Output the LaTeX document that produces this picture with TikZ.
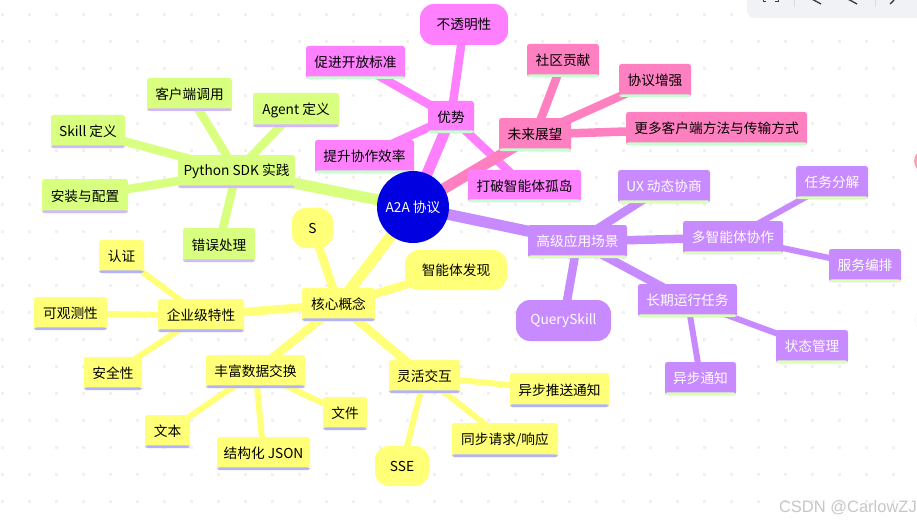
\documentclass[tikz,border=0pt]{standalone}
\usepackage{fontspec}
\setmainfont{Noto Sans CJK SC}
\newfontfamily\wmfont{Liberation Sans}
\pgfdeclarelayer{paper}
\pgfdeclarelayer{links}
\pgfsetlayers{paper,links,main}
\definecolor{cpink}{HTML}{FF80FF}
\definecolor{crose}{HTML}{FF80C0}
\definecolor{cpurple}{HTML}{C78AFF}
\definecolor{cyellow}{HTML}{FFFF78}
\definecolor{clime}{HTML}{D9FF80}
\definecolor{cblue}{HTML}{0000E0}
\definecolor{bgreen}{HTML}{C4FFD0}
\definecolor{blilac}{HTML}{D2B8FF}
\definecolor{bblue}{HTML}{B2B2FF}
\definecolor{blime}{HTML}{DCFFB8}
\definecolor{cdot}{HTML}{F0F0F0}
\definecolor{ctool}{HTML}{F0F2F6}
\definecolor{cblob}{HTML}{F5A3B7}
\tikzset{
  x=1pt,y=-1pt,
  mfont/.style={font=\fontsize{13.7}{15}\selectfont},
  mbox/.style 2 args={fill=#1,inner sep=0pt,rounded corners=2.5pt,text=black,mfont,
    path picture={\fill[#2] ([yshift=2.6pt]path picture bounding box.south west) rectangle (path picture bounding box.south east);}},
  mcloud/.style={fill=#1,inner sep=0pt,rounded corners=14pt,text=black,mfont},
  pinkb/.style={mbox={cpink}{bgreen}},
  roseb/.style={mbox={crose}{bgreen}},
  purpb/.style={mbox={cpurple}{blime},text=white},
  limeb/.style={mbox={clime}{blilac}},
  yelb/.style={mbox={cyellow}{bblue}},
  lka/.style={line width=11pt,draw=#1},
  lkb/.style={line width=8.5pt,draw=#1},
  lkc/.style={line width=6pt,draw=#1},
}
\newcommand{\boxat}[7]{\node[#1,minimum width={(#5-#3)*1pt},minimum height={(#6-#4)*1pt}] (#2) at ({(#3+#5)/2},{(#4+#6)/2}) {\raisebox{-1.1pt}{#7}};}
\begin{document}
\begin{tikzpicture}
\useasboundingbox (0,0) rectangle (917,524);
\begin{pgfonlayer}{paper}
\fill[white] (0,0) rectangle (917,524);
\foreach \i in {0,...,33} \foreach \j in {0,...,19}
  \fill[cdot] ({27*\i+0.5},{15+27*\j-1.5}) rectangle +(3,3);
\end{pgfonlayer}
% window controls
\begin{scope}
\clip (0,0) rectangle (917,524);
\fill[ctool,rounded corners=8pt] (747,-12) rectangle (940,18);
\draw[line width=1pt,black!75] (763,0) -- (763,2) -- (766,2) (778,0) -- (778,2) -- (775,2);
\draw[line width=1pt,ctool!80!gray] (794,0) -- (794,7) (875,0) -- (875,7);
\draw[line width=1.4pt,black!75] (810,-2) -- (821,4) (846,-2) -- (857,4) (890,4) -- (894,0);
\fill[white,draw=black!5] (926,161) circle (14);
\fill[cblob] (926,161) circle (12);
\fill[white,draw=black!6] (930,320) circle (15);
\end{scope}
% nodes
\boxat{pinkb}{pros}{428}{101}{474}{133}{优势}
\boxat{mcloud=cpink}{opaque}{420}{4}{508}{45}{不透明性}
\boxat{pinkb}{open}{306}{46}{405}{79}{促进开放标准}
\boxat{pinkb}{effic}{315}{140}{414}{173}{提升协作效率}
\boxat{pinkb}{island}{468}{170}{581}{202}{打破智能体孤岛}
\boxat{roseb}{future}{499}{118}{571}{151}{未来展望}
\boxat{roseb}{comm}{527}{44}{599}{77}{社区贡献}
\boxat{roseb}{enh}{619}{64}{691}{97}{协议增强}
\boxat{roseb}{more}{626}{112}{807}{145}{更多客户端方法与传输方式}
\boxat{purpb}{adv}{528}{225}{627}{258}{高级应用场景}
\boxat{purpb}{ux}{618}{170}{710}{203}{UX 动态协商}
\boxat{purpb}{multi}{683}{221}{783}{254}{多智能体协作}
\boxat{purpb}{split}{796}{166}{868}{199}{任务分解}
\boxat{purpb}{orch}{829}{249}{901}{282}{服务编排}
\boxat{purpb}{longrun}{638}{284}{737}{317}{长期运行任务}
\boxat{purpb}{state}{776}{330}{848}{363}{状态管理}
\boxat{purpb}{notify}{665}{362}{736}{395}{异步通知}
\boxat{mcloud=cpurple,text=white}{qskill}{516}{300}{611}{341}{QuerySkill}
\boxat{limeb}{sdk}{178}{155}{295}{188}{Python SDK 实践}
\boxat{limeb}{client}{147}{78}{232}{111}{客户端调用}
\boxat{limeb}{agent}{253}{93}{339}{127}{Agent 定义}
\boxat{limeb}{skill}{51}{115}{125}{148}{Skill 定义}
\boxat{limeb}{install}{42}{179}{128}{213}{安装与配置}
\boxat{limeb}{err}{183}{228}{255}{262}{错误处理}
\boxat{yelb}{core}{302}{288}{375}{321}{核心概念}
\boxat{mcloud=cyellow}{ess}{292}{208}{333}{248}{S}
\boxat{mcloud=cyellow}{disc}{405}{250}{507}{290}{智能体发现}
\boxat{yelb}{ent}{158}{299}{244}{332}{企业级特性}
\boxat{yelb}{auth}{99}{240}{144}{273}{认证}
\boxat{yelb}{obs}{34}{297}{107}{330}{可观测性}
\boxat{yelb}{safe}{84}{357}{142}{390}{安全性}
\boxat{yelb}{rich}{206}{355}{305}{388}{丰富数据交换}
\boxat{yelb}{txt}{145}{415}{190}{448}{文本}
\boxat{yelb}{json}{217}{437}{310}{470}{结构化 JSON}
\boxat{yelb}{file}{323}{397}{367}{430}{文件}
\boxat{yelb}{flex}{389}{360}{460}{393}{灵活交互}
\boxat{yelb}{push}{510}{373}{609}{407}{异步推送通知}
\boxat{yelb}{sync}{452}{423}{558}{457}{同步请求/响应}
\boxat{mcloud=cyellow}{sse}{375}{446}{429}{486}{SSE}
\node[circle,fill=cblue,text=white,inner sep=0pt,minimum size=72pt,mfont] (root) at (413,207) {A2A 协议};
\node[anchor=east,text=black!22,inner sep=0pt,font=\wmfont\fontsize{16.5}{18}\selectfont] (mark) at (917,508) {CSDN @CarlowZJ};
% connectors, behind the nodes
\begin{pgfonlayer}{links}
\draw[lka=clime] (root.center) -- (sdk.center);
\draw[lkb=clime] (sdk.center) -- (client.center);
\draw[lkb=clime] (sdk.center) -- (agent.center);
\draw[lkb=clime] (sdk.center) -- (skill.center);
\draw[lkb=clime] (sdk.center) -- (install.center);
\draw[lkb=clime] (sdk.center) -- (err.center);
\draw[lka=cpink] (root.center) -- (pros.center);
\draw[lkb=cpink] (pros.center) -- (opaque.center);
\draw[lkb=cpink] (pros.center) -- (open.center);
\draw[lkb=cpink] (pros.center) -- (effic.center);
\draw[lkb=cpink] (pros.center) -- (island.center);
\draw[lka=crose] (root.center) -- (future.center);
\draw[lkb=crose] (future.center) -- (comm.center);
\draw[lkb=crose] (future.center) -- (enh.center);
\draw[lkb=crose] (future.center) -- (more.center);
\draw[lka=cpurple] (root.center) -- (adv.center);
\draw[lkb=cpurple] (adv.center) -- (ux.center);
\draw[lkb=cpurple] (adv.center) -- (multi.center);
\draw[lkb=cpurple] (adv.center) -- (longrun.center);
\draw[lkb=cpurple] (adv.center) -- (qskill.center);
\draw[lkc=cpurple] (multi.center) -- (split.center);
\draw[lkc=cpurple] (multi.center) -- (orch.center);
\draw[lkc=cpurple] (longrun.center) -- (state.center);
\draw[lkc=cpurple] (longrun.center) -- (notify.center);
\draw[lka=cyellow] (root.center) -- (core.center);
\draw[lkb=cyellow] (core.center) -- (ess.center);
\draw[lkb=cyellow] (core.center) -- (disc.center);
\draw[lkb=cyellow] (core.center) -- (ent.center);
\draw[lkb=cyellow] (core.center) -- (rich.center);
\draw[lkb=cyellow] (core.center) -- (flex.center);
\draw[lkc=cyellow] (ent.center) -- (auth.center);
\draw[lkc=cyellow] (ent.center) -- (obs.center);
\draw[lkc=cyellow] (ent.center) -- (safe.center);
\draw[lkc=cyellow] (rich.center) -- (txt.center);
\draw[lkc=cyellow] (rich.center) -- (json.center);
\draw[lkc=cyellow] (rich.center) -- (file.center);
\draw[lkc=cyellow] (flex.center) -- (push.center);
\draw[lkc=cyellow] (flex.center) -- (sync.center);
\draw[lkc=cyellow] (flex.center) -- (sse.center);
\end{pgfonlayer}
\end{tikzpicture}
\end{document}
